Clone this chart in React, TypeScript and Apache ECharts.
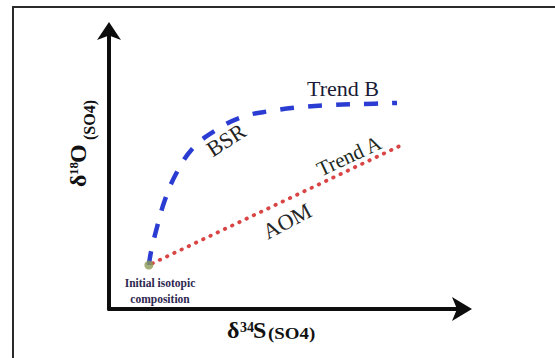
import React, { useEffect, useRef } from "react";
import * as echarts from "echarts";

// Trend B (BSR) curve (axis units 0-100)
const bsrX = [11.2, 11.8, 13.5, 15.7, 18.8, 23.6, 30.1, 37.4, 45.2, 53.7, 63.2, 71.6, 80.9];
const bsrY = [15.7, 20.4, 29.3, 38.9, 48.2, 57.5, 63.9, 68.6, 70.7, 72.1, 72.9, 73.2, 73.6];
// Trend A (AOM) straight line
const aomX = [11.2, 82.3];
const aomY = [15.7, 58.6];
// initial isotopic composition
const originPt = [11.2, 15.7];

const SERIF = "'Liberation Serif', 'Times New Roman', serif";

function txt(text: string, x: number, y: number, opts: any = {}) {
  return {
    type: "text",
    x,
    y,
    rotation: ((opts.rot || 0) * Math.PI) / 180,
    scaleX: opts.sx || 1,
    scaleY: opts.sy || 1,
    z: 100,
    style: {
      text,
      fontFamily: SERIF,
      fontSize: opts.fs || 18,
      fontWeight: opts.bold ? "bold" : "normal",
      fill: opts.color || "#222",
      align: opts.align || "center",
      verticalAlign: "middle",
    },
  };
}

export default function App() {
  const ref = useRef<HTMLDivElement>(null);
  useEffect(() => {
    if (!ref.current) return;
    const chart = echarts.init(ref.current, null, { renderer: "svg" });
    const axisCommon = {
      type: "value",
      min: 0,
      max: 100,
      axisTick: { show: false },
      axisLabel: { show: false },
      splitLine: { show: false },
    };
    chart.setOption({
      animation: false,
      backgroundColor: "#ffffff",
      grid: { left: 109, right: 90, top: 29, bottom: 49 },
      xAxis: {
        ...axisCommon,
        axisLine: {
          show: true,
          symbol: ["none", "arrow"],
          symbolSize: [18, 20],
          symbolOffset: [0, 7],
          lineStyle: { color: "#0d0d0d", width: 4 },
        },
      },
      yAxis: {
        ...axisCommon,
        axisLine: {
          show: true,
          symbol: ["none", "arrow"],
          symbolSize: [18, 18],
          symbolOffset: [0, 7],
          lineStyle: { color: "#0d0d0d", width: 4 },
        },
      },
      series: [
        {
          name: "BSR",
          type: "line",
          data: bsrX.map((x, i) => [x, bsrY[i]]),
          smooth: 0.4,
          showSymbol: false,
          lineStyle: { color: "#2b3cd2", width: 4.5, type: [14, 14] },
          z: 3,
        },
        {
          name: "AOM",
          type: "line",
          data: aomX.map((x, i) => [x, aomY[i]]),
          showSymbol: false,
          lineStyle: { color: "#d94444", width: 3.8, type: [0.5, 7.5], cap: "round", dashOffset: -4 },
          z: 3,
        },
        {
          name: "Initial",
          type: "scatter",
          data: [originPt],
          symbolSize: 9,
          itemStyle: { color: "#8e9c58" },
          z: 5,
        },
      ],
      graphic: [
        {
          type: "rect",
          shape: { x: 13, y: 7, width: 700, height: 500 },
          style: { fill: "none", stroke: "#2a2a2a", lineWidth: 2 },
        },
        txt("Trend B", 343, 89, { fs: 21, sx: 1.05, color: "#1a1a36" }),
        txt("BSR", 226, 140, { fs: 22, rot: 33, color: "#222" }),
        txt("Trend A", 349, 156, { fs: 21, rot: 25, color: "#1c2a20" }),
        txt("AOM", 287, 221, { fs: 22, rot: 28, color: "#262626" }),
        txt("Initial isotopic", 160, 283, { fs: 11.5, bold: true, color: "#2e2850" }),
        txt("composition", 160, 299, { fs: 11.5, bold: true, color: "#2e2850" }),
        // x-axis title δ34S(SO4)
        txt("δ", 227, 330, { fs: 24, bold: true, align: "left", color: "#111" }),
        txt("34", 240, 327, { fs: 14, bold: true, align: "left", color: "#111" }),
        txt("S", 253, 330, { fs: 24, bold: true, align: "left", color: "#111" }),
        txt("(SO4)", 268, 334, { fs: 16, bold: true, align: "left", sx: 1.18, color: "#111" }),
        // y-axis title δ18O(SO4)
        txt("δ", 78, 187, { fs: 24, bold: true, align: "left", rot: 90, color: "#111" }),
        txt("18", 73, 175, { fs: 13, bold: true, align: "left", rot: 90, color: "#111" }),
        txt("O", 78, 163, { fs: 24, bold: true, align: "left", rot: 90, color: "#111" }),
        txt("(SO4)", 89, 140, { fs: 16, bold: true, align: "left", rot: 90, color: "#111" }),
      ],
    });
    return () => chart.dispose();
  }, []);
  return (
    <div
      ref={ref}
      style={{ position: "fixed", left: 0, top: 0, width: 555, height: 358, background: "#fff" }}
    />
  );
}
